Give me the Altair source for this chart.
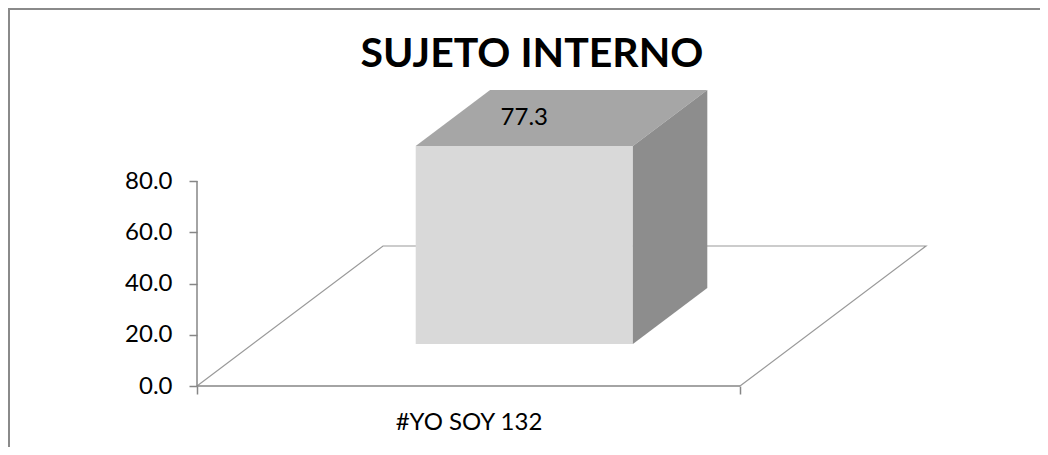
import altair as alt
import pandas as pd

# ---------------- data ----------------
categories = ["#YO SOY 132"]
values = [77.3]
y_ticks = [0, 20, 40, 60, 80]
title_text = "SUJETO INTERNO"

# ---------------- geometry / style constants ----------------
PX_PER_CAT = 543.0          # pixels per category unit along x
PX_PER_VAL = 2.5625         # pixels per value unit along y
PLOT_W, PLOT_H = 750, 328
X_MAX = PLOT_W / PX_PER_CAT
Y_MAX = PLOT_H / PX_PER_VAL
DX = 186 / PX_PER_CAT       # depth shift of the floor (x, category units)
DY = 140 / PX_PER_VAL       # depth shift of the floor (y, value units)
BAR_W = 0.4
Z_FRONT, Z_BACK = 0.3, 0.7
FONT = "Lato"
AXIS_COLOR = "#868686"

front_rows, top_rows, side_rows, label_rows = [], [], [], []
for i, (c, v) in enumerate(zip(categories, values)):
    left = i + 0.5 - BAR_W / 2
    right = i + 0.5 + BAR_W / 2
    front_rows.append(dict(x=left + Z_FRONT * DX, x2=right + Z_FRONT * DX,
                           y=Z_FRONT * DY, y2=v + Z_FRONT * DY))
    for z in (Z_FRONT, Z_BACK):
        top_rows.append(dict(y=v + z * DY, x=left + z * DX, x2=right + z * DX))
        side_rows.append(dict(x=right + z * DX, y=z * DY, y2=v + z * DY))
    label_rows.append(dict(x=i + 0.5 + Z_FRONT * DX,
                           y=v + 0.5 * (Z_FRONT + Z_BACK) * DY,
                           text=f"{v:.1f}"))

n = len(categories)
floor_rows = [dict(o=0, x=0, y=0), dict(o=1, x=DX, y=DY),
              dict(o=2, x=n + DX, y=DY), dict(o=3, x=n, y=0)]
yaxis_rows = [dict(x=0, y=0, y2=max(y_ticks))]
xaxis_rows = [dict(y=0, x=0, x2=n)]

label_expr = " : ".join(
    [f"datum.value == {i + 0.5} ? '{c}'" for i, c in enumerate(categories)] + ["''"])
x_vals = [i * 0.5 for i in range(2 * n + 1)]

xscale = alt.Scale(domain=[0, X_MAX], nice=False, zero=False)
yscale = alt.Scale(domain=[0, Y_MAX], nice=False, zero=False)
xaxis = alt.Axis(values=x_vals, labelExpr=label_expr, domain=False, grid=False,
                 tickSize=8, tickWidth=1.5, tickColor=AXIS_COLOR,
                 tickOpacity={"condition": {"test": "datum.value % 1 != 0", "value": 0}, "value": 1},
                 labelFont=FONT, labelFontSize=24, labelColor="black",
                 labelPadding=16, labelFlush=False, labelOverlap=False, title=None)
yaxis = alt.Axis(values=y_ticks, format=".1f", domain=False, grid=False,
                 tickSize=8, tickWidth=1.5, tickColor=AXIS_COLOR,
                 labelFont=FONT, labelFontSize=24, labelColor="black",
                 labelPadding=17, title=None)


def X(f="x"):
    return alt.X(f, type="quantitative", scale=xscale, axis=xaxis)


def Y(f="y"):
    return alt.Y(f, type="quantitative", scale=yscale, axis=yaxis)


floor = alt.Chart(pd.DataFrame(floor_rows)).mark_line(
    color="#9a9a9a", strokeWidth=1.2).encode(x=X(), y=Y(), order="o:Q")

yline = alt.Chart(pd.DataFrame(yaxis_rows)).mark_rule(
    color=AXIS_COLOR, strokeWidth=1.5).encode(x=X(), y=Y(), y2="y2:Q")
xline = alt.Chart(pd.DataFrame(xaxis_rows)).mark_rule(
    color=AXIS_COLOR, strokeWidth=1.5).encode(y=Y(), x=X(), x2="x2:Q")

front = alt.Chart(pd.DataFrame(front_rows)).mark_rect(color="#d9d9d9").encode(
    x=X(), x2="x2:Q", y=Y(), y2="y2:Q")
topf = alt.Chart(pd.DataFrame(top_rows)).mark_area(
    orient="horizontal", color="#a6a6a6", opacity=1).encode(y=Y(), x=X(), x2="x2:Q")
side = alt.Chart(pd.DataFrame(side_rows)).mark_area(
    orient="vertical", color="#8d8d8d", opacity=1).encode(x=X(), y=Y(), y2="y2:Q")

label = alt.Chart(pd.DataFrame(label_rows)).mark_text(
    font=FONT, fontSize=24, color="black", align="center", baseline="middle").encode(
    x=X(), y=Y(), text="text:N")

deco = pd.DataFrame({"t": [title_text]})
title = alt.Chart(deco).mark_text(
    font=FONT, fontSize=41, fontWeight="bold", color="black",
    align="center", baseline="alphabetic").encode(
    x=alt.value(335), y=alt.value(9), text="t:N")
border_top = alt.Chart(deco).mark_rule(color="#8a8a8a", strokeWidth=2).encode(
    x=alt.value(-189), x2=alt.value(900), y=alt.value(-49))
border_left = alt.Chart(deco).mark_rule(color="#8a8a8a", strokeWidth=2).encode(
    x=alt.value(-188), y=alt.value(-50), y2=alt.value(500))

chart = alt.layer(floor, yline, xline, front, topf, side, label, title,
                  border_top, border_left).properties(
    width=PLOT_W, height=PLOT_H,
    background="white",
    autosize=alt.AutoSizeParams(type="none"),
    padding={"left": 189, "top": 50, "right": 93, "bottom": 61},
).configure_view(strokeWidth=0, stroke="transparent")

chart.save("out.html", embed_options={"renderer": "svg", "actions": False})
